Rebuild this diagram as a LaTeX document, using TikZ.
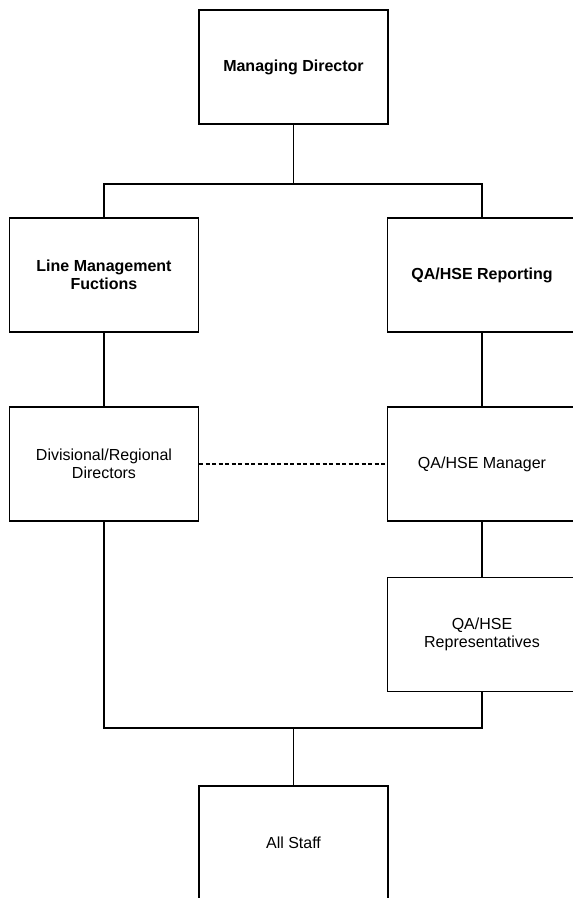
\documentclass[tikz,border=0pt]{standalone}
\usepackage{fontspec}
\setmainfont{Liberation Sans}
\begin{document}
\begin{tikzpicture}[x=1pt,y=-1pt,
    orgbox/.style={draw,line width=1.3pt,minimum width=189pt,minimum height=114pt,
      align=center,inner sep=0pt,font=\fontsize{16}{18.5}\selectfont},
    link/.style={line width=1.1pt}]
  \useasboundingbox (0,0) rectangle (573,898);
  \clip (0,0) rectangle (573,898);
  \node[orgbox] (md) at (293.5,67) {\bfseries Managing Director};
  \node[orgbox] (lmf) at (104,275) {\bfseries Line Management\\\bfseries Fuctions};
  \node[orgbox] (qar) at (482,275) {\bfseries QA/HSE Reporting};
  \node[orgbox] (drd) at (104,464) {Divisional/Regional\\Directors};
  \node[orgbox] (qam) at (482,464) {QA/HSE Manager};
  \node[orgbox] (qarep) at (482,634.5) {QA/HSE\\Representatives};
  \node[orgbox] (staff) at (293.5,843) {All Staff};
  \coordinate (topbar) at (293.5,184);
  \coordinate (botbar) at (293.5,728);
  % top branch
  \draw[link] (md) -- (topbar);
  \draw[link] (lmf.north) |- (topbar) -| (qar.north);
  \draw[link] (lmf) -- (drd);
  \draw[link] (qar) -- (qam);
  \draw[link,dash pattern=on 4pt off 2.5pt] (drd) -- (qam);
  \draw[link] (qam) -- (qarep);
  % bottom branch
  \draw[link] (drd.south) |- (botbar) -| (qarep.south);
  \draw[link] (botbar) -- (staff);
\end{tikzpicture}
\end{document}
